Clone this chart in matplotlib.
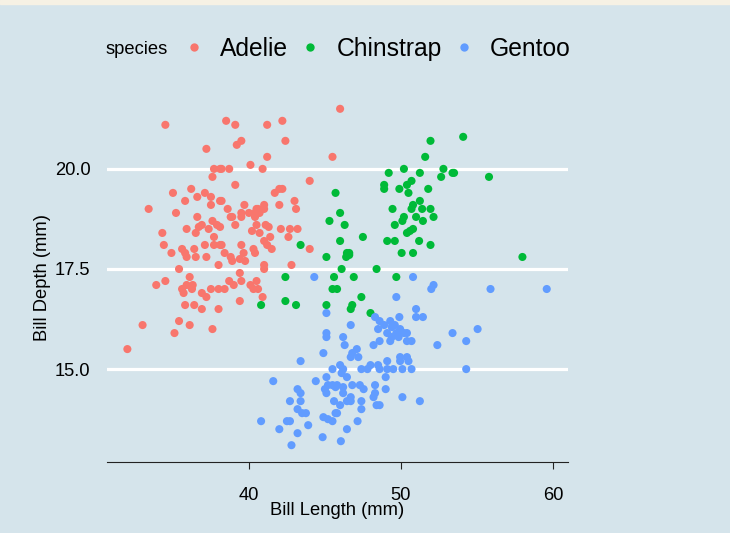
import matplotlib
matplotlib.use("Agg")
import matplotlib.pyplot as plt
from matplotlib.lines import Line2D
from matplotlib.patches import Rectangle

plt.rcParams['font.family'] = ['Liberation Sans', 'DejaVu Sans']

# values (bill length, bill depth in mm)
adelie_len = [34.5, 37.2, 37.7, 38.1, 37.6, 35.0, 36.2, 35.8, 36.6, 37.1, 37.5, 37.5, 38.1, 33.4, 35.2, 36.6,
              38.5, 39.1, 41.2, 42.2, 39.2, 39.5, 42.4, 41.2, 45.5, 38.2, 38.7, 40.1, 40.9, 44.0, 39.1, 41.7,
              42.0, 42.2, 43.0, 43.1, 42.0, 38.2, 38.6, 39.7, 40.5, 40.6, 41.0, 41.0, 39.5, 40.0, 40.4, 40.7,
              38.8, 46.0,
              34.3, 35.9, 36.5, 36.7, 36.9, 37.6, 37.9, 37.35, 37.7, 38.1, 34.4, 34.9, 35.6, 35.8, 35.9, 36.4,
              36.5, 37.1, 37.2, 37.7, 38.1, 38.0, 35.4, 33.9, 34.5, 36.1, 35.9, 35.6, 36.25, 35.7, 36.3, 36.9,
              37.2, 37.5, 38.0, 35.8, 36.4, 36.9, 38.0, 33.0, 35.4, 36.1, 35.1, 37.6, 32.0,
              38.9, 39.1, 39.5, 40.4, 40.5, 41.1, 41.3, 41.4, 40.2, 40.7, 41.0, 41.2, 41.5, 42.1, 42.7, 43.2,
              42.6, 44.0, 39.5, 39.65, 39.4, 38.4, 38.8, 38.9, 39.75, 40.3, 40.4, 41.0, 41.0, 42.8, 39.4, 38.7,
              38.4, 39.0, 39.5, 40.1, 40.3, 40.5, 40.6, 40.9, 39.4, 38.2]
adelie_dep = [21.1, 20.5, 20.0, 20.0, 19.8, 19.4, 19.5, 19.2, 19.3, 19.4, 19.3, 19.1, 19.2, 19.0, 18.9, 18.8,
              21.2, 21.1, 21.1, 21.2, 20.6, 20.7, 20.7, 20.3, 20.3, 20.0, 20.0, 20.1, 20.0, 19.7, 19.6, 19.4,
              19.5, 19.5, 19.2, 19.0, 19.1, 19.2, 19.0, 19.1, 19.0, 19.0, 19.1, 19.0, 18.9, 18.9, 18.9, 18.9,
              18.8, 21.5,
              18.4, 18.5, 18.4, 18.55, 18.6, 18.7, 18.6, 18.5, 18.3, 18.55, 18.1, 17.9, 18.0, 17.9, 17.8, 18.0,
              17.8, 18.1, 17.8, 18.1, 18.1, 17.6, 17.5, 17.1, 17.2, 17.3, 17.1, 17.0, 17.0, 16.9, 17.1, 16.9,
              16.8, 17.0, 17.0, 16.6, 16.6, 16.5, 16.5, 16.1, 16.2, 16.1, 15.9, 16.0, 15.5,
              18.8, 18.6, 18.8, 18.8, 18.6, 18.6, 18.55, 18.3, 18.45, 18.4, 18.2, 18.1, 18.0, 18.5, 18.5, 18.5,
              18.3, 18.0, 18.1, 17.9, 17.75, 17.9, 17.8, 17.7, 17.7, 18.0, 17.9, 17.6, 17.5, 17.6, 17.4, 17.2,
              17.0, 17.1, 17.2, 17.1, 17.0, 17.2, 17.0, 16.8, 16.7, 18.1]

chinstrap_len = [51.95, 51.6, 49.2, 50.2, 51.25, 52.8, 52.65, 53.4, 48.9, 48.9, 49.9, 50.4, 50.7, 50.5, 51.8,
                 49.45, 50.7, 50.8, 51.25, 51.4, 51.95, 50.2, 51.0, 52.15, 45.7, 46.0,
                 54.1, 53.5, 55.8,
                 45.3, 43.4, 45.1, 42.4, 45.6, 45.5, 45.8, 40.8, 42.4, 43.1, 45.1,
                 46.3, 49.6, 50.1, 51.45, 46.0, 47.5, 49.1, 49.6, 50.4, 50.6, 50.8, 51.2, 51.95,
                 46.45, 46.6, 46.4, 46.6, 50.05, 50.8, 46.1, 48.4, 46.9, 49.7, 47.4, 46.8, 46.7, 48.0,
                 58.0]
chinstrap_dep = [20.7, 20.3, 19.9, 20.0, 19.9, 20.0, 19.8, 19.9, 19.6, 19.5, 19.5, 19.6, 19.7, 19.4, 19.5,
                 19.0, 19.0, 19.1, 19.2, 19.0, 19.0, 18.8, 18.8, 18.8, 19.4, 18.9,
                 20.8, 19.9, 19.8,
                 18.7, 18.1, 17.8, 17.3, 17.3, 17.0, 17.0, 16.6, 16.7, 16.6, 16.6,
                 18.6, 18.6, 18.7, 18.7, 18.2, 18.3, 18.2, 18.2, 18.4, 18.45, 18.5, 18.2, 18.1,
                 17.9, 17.85, 17.8, 17.9, 17.9, 17.9, 17.5, 17.5, 17.3, 17.3, 16.8, 16.6, 16.5, 16.4,
                 17.8]

gentoo_len = [44.3, 45.1, 45.1,
              50.8, 52.15, 52.0, 49.7, 51.0, 51.0, 51.45, 49.9, 46.7, 48.3, 48.6, 48.9, 48.5, 49.3, 49.4,
              49.6, 49.7, 49.95, 50.4, 49.1,
              55.9, 59.6, 55.05, 53.4, 54.3, 54.3,
              45.1, 44.9, 43.4, 45.5, 41.6, 44.4, 45.1, 43.2, 43.4, 42.7, 43.4, 45.0, 45.2, 45.5, 45.7, 45.1,
              45.6, 43.2, 43.5, 43.75, 40.8, 42.5, 42.7, 44.9, 45.2, 45.5, 45.7, 42.0, 43.2, 43.9, 44.85, 42.8,
              46.2, 46.3, 48.2, 48.6, 49.3, 49.4, 49.85, 50.2, 50.4, 50.7, 52.4, 46.8, 46.7, 47.1, 47.2, 49.95,
              50.4, 50.5, 49.95, 49.1, 46.0, 46.2, 46.1, 46.45, 47.4, 47.8, 48.0, 48.5, 48.6, 49.1, 49.5, 50.1,
              50.7, 49.0, 45.8, 46.2, 46.8, 47.3, 47.55, 48.3, 49.0, 46.2, 46.7, 46.45, 46.0, 46.7, 48.3, 48.2,
              47.4, 50.1, 51.25, 48.4, 48.6, 47.4, 45.8, 47.15, 46.45, 46.05]
gentoo_dep = [17.3, 16.4, 15.9,
              17.3, 17.1, 17.0, 16.8, 16.5, 16.3, 16.3, 16.3, 16.1, 16.3, 16.2, 16.1, 16.0, 16.2, 16.05,
              16.1, 15.9, 16.0, 15.9, 15.9,
              17.0, 17.0, 16.0, 15.9, 15.7, 15.0,
              15.8, 15.4, 15.2, 15.0, 14.7, 14.7, 14.8, 14.5, 14.4, 14.2, 14.2, 14.5, 14.6, 14.6, 14.55, 14.4,
              14.2, 14.0, 13.9, 13.9, 13.7, 13.7, 13.7, 13.8, 13.75, 13.7, 13.9, 13.5, 13.4, 13.6, 13.3, 13.1,
              15.8, 15.6, 15.6, 15.7, 15.7, 15.8, 15.8, 15.9, 15.7, 15.7, 15.6, 15.4, 15.3, 15.5, 15.3, 15.3,
              15.3, 15.2, 15.2, 15.2, 15.1, 15.0, 14.9, 14.8, 15.0, 15.0, 15.1, 15.1, 15.0, 15.0, 15.0, 15.0,
              15.0, 14.8, 14.6, 14.55, 14.6, 14.6, 14.5, 14.6, 14.5, 14.4, 14.3, 14.2, 14.1, 14.2, 14.4, 14.3,
              14.2, 14.3, 14.2, 14.1, 14.1, 14.0, 13.9, 13.7, 13.5, 13.2]

species = ["Adelie", "Chinstrap", "Gentoo"]
colors = ["#F8766D", "#00BA38", "#619CFF"]
bg = "#d5e4eb"

fig = plt.figure(figsize=(7.3, 5.33), dpi=100, facecolor=bg)
fig.patches.append(Rectangle((0, 0.993), 1, 0.007, transform=fig.transFigure, color="#f6f1e4", zorder=-1))
ax = fig.add_axes([0.1466, 0.1332, 0.6315, 0.6942])
ax.set_facecolor(bg)

data = [(adelie_len, adelie_dep), (chinstrap_len, chinstrap_dep), (gentoo_len, gentoo_dep)]
for (xs, ys), c in zip(data, colors):
    ax.scatter(xs, ys, s=34, color=c, edgecolors="none", zorder=3)

ax.set_xlim(30.66, 61.0)
ax.set_ylim(12.68, 21.92)
ax.set_xticks([40, 50, 60])
ax.set_yticks([15.0, 17.5, 20.0])
ax.set_yticklabels(["15.0", "17.5", "20.0"])
ax.grid(axis="y", color="white", linewidth=2.3, zorder=1)
ax.grid(axis="x", visible=False)
for s in ["top", "right", "left"]:
    ax.spines[s].set_visible(False)
ax.spines["bottom"].set_color("#222222")
ax.spines["bottom"].set_linewidth(0.8)
ax.tick_params(axis="x", length=5, width=0.8, color="#222222", pad=13, labelsize=13.2)
ax.tick_params(axis="y", length=0, pad=12, labelsize=13.2)
ax.set_xlabel("Bill Length (mm)", fontsize=13.2, labelpad=-1.5)
ax.set_ylabel("Bill Depth (mm)", fontsize=13.2, labelpad=3)

# legend across the top
fig.text(0.145, 0.908, "species", fontsize=13.2, va="center", ha="left")
handles = [Line2D([], [], linestyle="none", marker="o", markersize=6, color=c, markeredgewidth=0) for c in colors]
fig.legend(handles, species, loc="center left", bbox_to_anchor=(0.249, 0.908), ncol=3, frameon=False,
           fontsize=17.7, handlelength=1.0, handletextpad=0.55, columnspacing=0.42, borderaxespad=0, borderpad=0)

fig.savefig("out.png", dpi=100, facecolor=bg)
